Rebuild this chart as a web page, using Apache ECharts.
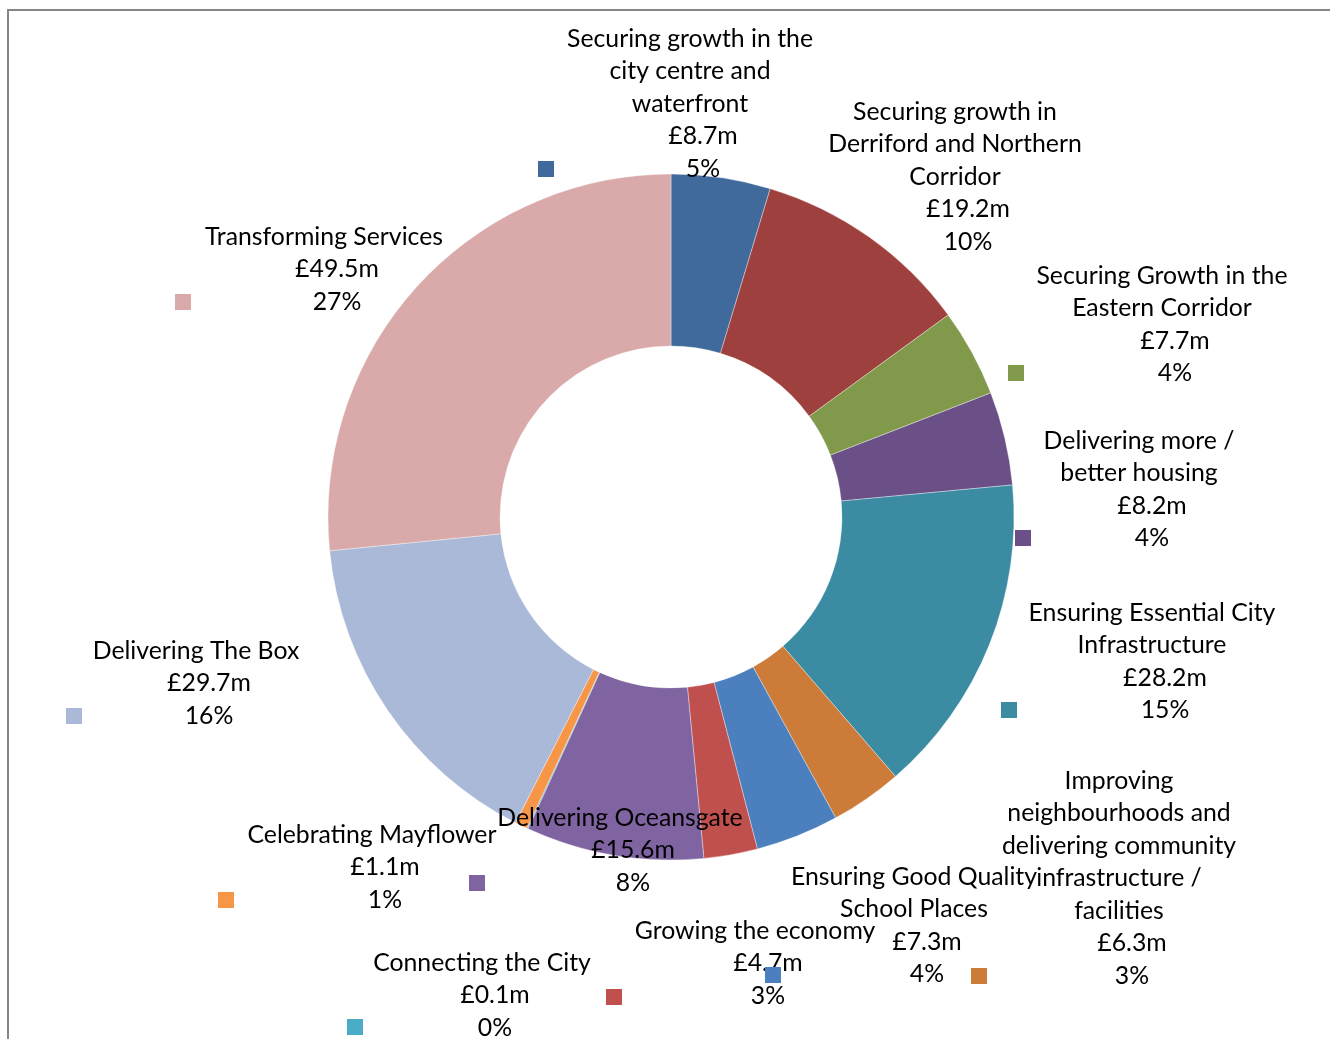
<!DOCTYPE html>
<html>
<head>
<meta charset="utf-8">
<script src="https://cdn.jsdelivr.net/npm/echarts@6/dist/echarts.min.js"></script>
<style>
html,body{margin:0;padding:0;background:#fff;}
#chart{width:1330px;height:1039px;}
</style>
</head>
<body>
<div id="chart"></div>
<script>
// ---- data ----
const categories = [
  "Securing growth in the city centre and waterfront",
  "Securing growth in Derriford and Northern Corridor",
  "Securing Growth in the Eastern Corridor",
  "Delivering more / better housing",
  "Ensuring Essential City Infrastructure",
  "Improving neighbourhoods and delivering community infrastructure / facilities",
  "Ensuring Good Quality School Places",
  "Growing the economy",
  "Delivering Oceansgate",
  "Connecting the City",
  "Celebrating Mayflower",
  "Delivering The Box",
  "Transforming Services"
];
const values = [8.7, 19.2, 7.7, 8.2, 28.2, 6.3, 7.3, 4.7, 15.6, 0.1, 1.1, 29.7, 49.5];

// ---- styling / layout (not data) ----
const colors = ["#3F6A9B", "#9D403E", "#80994A", "#6A5086", "#3B8BA2", "#CC7B38",
                "#4C7FBD", "#C0504D", "#8064A2", "#4BACC6", "#F79646", "#AAB9D7", "#D9AAA9"];
// words per line for each label name
const wordsPerLine = [[4,3,1],[3,3,1],[4,2],[3,2],[3,1],[1,2,2,2,1],[3,2],[3],[2],[3],[2],[3],[2]];
// label anchor: [centre x of name lines, centre y of first line]
const labelPos = [[690,39],[955,112],[1162,276],[1139,441],[1152,613],[1119,781],[914,877],
                  [755,931],[620,818],[482,963],[372,835],[196,651],[324,237]];
// legend key square: [left x, centre y]
const keyPos = [[538,169],[800,241],[1008,373],[1015,538],[1001,710],[971,976],[765,975],
                [606,997],[469,883],[347,1027],[218,900],[66,716],[175,302]];

const LH = 32.5;
const FONT = "Lato";
const FS = 24.8;

function wrapName(name, counts) {
  const w = name.split(" ");
  const out = [];
  let i = 0;
  counts.forEach(c => { out.push(w.slice(i, i + c).join(" ")); i += c; });
  return out;
}

const chart = echarts.init(document.getElementById("chart"), null, {renderer: "canvas"});

const graphics = [{
  type: "rect", shape: {x: 8, y: 10, width: 1400, height: 1100},
  style: {fill: "none", stroke: "#868686", lineWidth: 2}, z: 0, silent: true
}];
keyPos.forEach((p, i) => {
  graphics.push({
    type: "rect", shape: {x: p[0], y: p[1] - 8, width: 16, height: 16},
    style: {fill: colors[i]}, z: 100, silent: true
  });
});

chart.setOption({
  animation: false,
  backgroundColor: "#ffffff",
  color: colors,
  graphic: graphics,
  series: [{
    type: "pie",
    center: [671, 517],
    radius: [171, 343],
    startAngle: 90,
    clockwise: true,
    percentPrecision: 0,
    avoidLabelOverlap: false,
    itemStyle: {borderColor: "rgba(255,255,255,0.6)", borderWidth: 0.6},
    label: {
      show: true,
      position: "outside",
      color: "#000",
      fontFamily: FONT,
      fontSize: FS,
      lineHeight: LH,
      formatter: p => {
        const lines = wrapName(p.name, wordsPerLine[p.dataIndex]).map(s => "{n|" + s + "}");
        lines.push("{v|£" + p.value + "m}");
        lines.push("{v|" + p.percent + "%}");
        return lines.join("\n");
      },
      rich: {
        n: {fontFamily: FONT, fontSize: FS, lineHeight: LH, color: "#000"},
        v: {fontFamily: FONT, fontSize: FS, lineHeight: LH, color: "#000", padding: [0, 0, 0, 26]}
      }
    },
    labelLine: {show: false},
    labelLayout: params => {
      const p = labelPos[params.dataIndex];
      return {x: p[0], y: p[1] - LH / 2, align: "center", verticalAlign: "top", hideOverlap: false, moveOverlap: false};
    },
    emphasis: {disabled: true},
    data: categories.map((c, i) => ({name: c, value: values[i]}))
  }]
});
</script>
</body>
</html>
